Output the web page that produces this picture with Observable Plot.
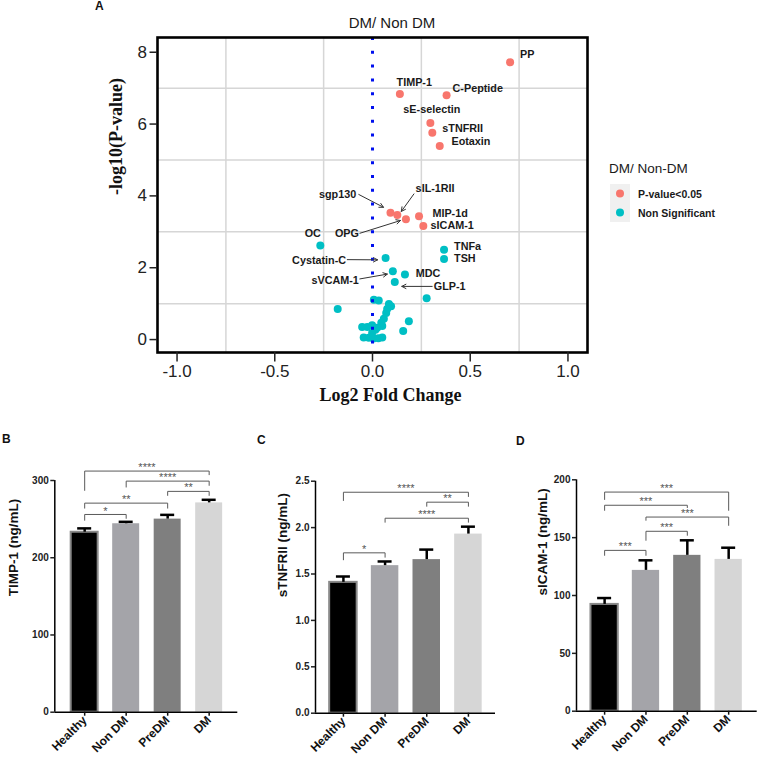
<!DOCTYPE html>
<html><head><meta charset="utf-8">
<script src="https://cdn.jsdelivr.net/npm/d3@7"></script>
<script src="https://cdn.jsdelivr.net/npm/@observablehq/plot@0.6"></script>
<style>
body{margin:0;background:#fff;}
#root{position:relative;width:758px;height:761px;overflow:hidden;font-family:"Liberation Sans",Arial,sans-serif;color:#111;}
#root svg{overflow:visible;}
</style></head><body><div id="root"></div>
<script>
// ---------------- DATA ----------------
// Panel A: volcano (DM / Non DM)
const sigNames = ["PP","TIMP-1","C-Peptide","sE-selectin","sTNFRII","Eotaxin","sgp130","sIL-1RII","OPG","MIP-1d","sICAM-1"];
const sigLog2FC = [0.704,0.140,0.379,0.296,0.306,0.344,0.092,0.127,0.171,0.238,0.260];
const sigNegLog10P = [7.72,6.84,6.80,6.03,5.76,5.39,3.53,3.47,3.35,3.43,3.16];

const nsNames = ["OC","TNFa","TSH","Cystatin-C","sVCAM-1","MDC","GLP-1"];
const nsLog2FC = [-0.267,0.366,0.366,0.067,0.104,0.166,0.114,0.277,-0.178,0.007,0.032,0.084,0.095,0.075,0.070,0.058,0.045,0.186,0.157,0.050,-0.053,-0.027,-0.002,0.024,-0.045,-0.019,0.005,0.030,0.050,-0.002,0.015];
const nsNegLog10P = [2.62,2.50,2.24,2.27,1.90,1.81,1.60,1.15,0.85,1.11,1.09,0.99,0.93,0.85,0.74,0.58,0.47,0.51,0.24,0.38,0.35,0.35,0.40,0.33,0.06,0.05,0.03,0.04,0.06,0.18,0.27];

const volcanoXTicks = [-1.0,-0.5,0.0,0.5,1.0];
const volcanoYTicks = [0,2,4,6,8];
const volcanoGridX = [-0.75,-0.25,0.25,0.75];
const volcanoGridY = [1,3,5,7];
const legendTitle = "DM/ Non-DM";
const legendLabels = ["P-value<0.05","Non Significant"];

// Panels B-D: bar charts
const groups = ["Healthy","Non DM","PreDM","DM"];
const timp1Mean = [233,244,250,271];
const timp1Err = [5,2.5,5.5,4];
const stnfriiMean = [1.41,1.59,1.655,1.93];
const stnfriiErr = [0.063,0.045,0.108,0.08];
const sicam1Mean = [92.3,121.7,134.7,131.2];
const sicam1Err = [5.5,8.7,13,10.1];

// significance comparisons: [groupA, groupB, label]
const timp1Sig = [[0,1,"*"],[0,2,"**"],[2,3,"**"],[1,3,"****"],[0,3,"****"]];
const stnfriiSig = [[0,1,"*"],[1,3,"****"],[2,3,"**"],[0,3,"****"]];
const sicam1Sig = [[0,1,"***"],[1,2,"***"],[1,3,"***"],[0,2,"***"],[0,3,"***"]];

// ---------------- ANNOTATION LAYOUT ----------------
// label offsets in px relative to point: [dx, dy, anchor]
const labelOffsets = {
  "PP":[10,-7.4,"start"], "TIMP-1":[-3.3,-11,"start"], "C-Peptide":[6,-7,"start"],
  "sE-selectin":[-27,-13.7,"start"], "sTNFRII":[10,-4,"start"], "Eotaxin":[11.7,-4,"start"],
  "MIP-1d":[13.4,-2.4,"start"], "sICAM-1":[7.3,-0.7,"start"], "TNFa":[10,-3.6,"start"],
  "TSH":[10,-0.4,"start"], "OC":[-7.5,-12.3,"middle"], "MDC":[10.7,-0.7,"start"],
  "sgp130":[-34.3,-18.3,"end"], "sIL-1RII":[18.3,-26.8,"start"], "OPG":[-47,14.6,"end"],
  "Cystatin-C":[-39.5,2.3,"end"], "sVCAM-1":[-34,9.3,"end"], "GLP-1":[39,4.3,"start"]
};
// arrows: [tailDx, tailDy, headDx, headDy] px relative to point
const arrowOffsets = {
  "sgp130":[-31.7,-18.3,-7,-5.5], "sIL-1RII":[16.6,-21,4,-3.5], "OPG":[-46,14,-5.5,1.3],
  "Cystatin-C":[-38.3,1.6,-8,1.8], "sVCAM-1":[-33,7.6,-5.5,2.8], "GLP-1":[37.4,4.3,7,4.3]
};
// bracket levels per panel: [line level, left leg end, right leg end] (data units)
const timp1Brk = [[256,248.5,251],[270.7,264.2,264.2],[285.9,280.7,280.7],[299.2,291.5,293.7],[312.2,287.2,307.5]];
const stnfriiBrk = [[1.728,1.653,1.681],[2.101,2.058,2.058],[2.274,2.23,2.23],[2.381,2.292,2.335]];
const sicam1Brk = [[139,134.7,134.7],[155.5,147.7,152],[167.8,165,160.6],[178,173.6,176],[189.4,183,173.6]];

const RED = "#f8766d", TEAL = "#00bfc4";
const barFills = ["#000000","#a4a4a9","#7f7f7f","#d6d6d6"];

const root = document.getElementById("root");
function place(el, left, top) {
  el.style.position = "absolute"; el.style.left = left + "px"; el.style.top = top + "px";
  root.appendChild(el); return el;
}
function html(s, left, top, css) {
  const d = document.createElement("div"); d.textContent = s; d.style.cssText = css || "";
  d.style.whiteSpace = "nowrap"; return place(d, left, top);
}

// ---------------- PANEL A ----------------
const VW=758, VH=440, VML=157, VMR=171, VMT=37, VMB=88;
const xDom=[-1.1,1.1], yDom=[-0.36,8.41];
const kx=(VW-VML-VMR)/(xDom[1]-xDom[0]), ky=(VH-VMT-VMB)/(yDom[1]-yDom[0]);

const pts = [
  ...sigNames.map((n,i)=>({name:n, fc:sigLog2FC[i], p:sigNegLog10P[i], sig:true})),
  ...nsLog2FC.map((v,i)=>({name:nsNames[i]||"", fc:v, p:nsNegLog10P[i], sig:false}))
];
const labels = pts.filter(d=>labelOffsets[d.name]).map(d=>{
  const o = labelOffsets[d.name];
  return {text:d.name, x:d.fc + o[0]/kx, y:d.p - o[1]/ky, anchor:o[2]};
});
const arrows = pts.filter(d=>arrowOffsets[d.name]).map(d=>{
  const o = arrowOffsets[d.name];
  return {x1:d.fc+o[0]/kx, y1:d.p-o[1]/ky, x2:d.fc+o[2]/kx, y2:d.p-o[3]/ky};
});
const lblFont = {fontFamily:"Liberation Sans, Arial, sans-serif", fontWeight:"bold", fontSize:10.8, fill:"#1a1a1a"};

const volcano = Plot.plot({
  width:VW, height:VH, marginLeft:VML, marginRight:VMR, marginTop:VMT, marginBottom:VMB,
  x:{domain:xDom}, y:{domain:yDom},
  style:{fontFamily:"Liberation Sans, Arial, sans-serif", fontSize:"17px", background:"transparent", overflow:"visible"},
  marks:[
    Plot.ruleX(volcanoGridX, {stroke:"#d6d6d6", strokeWidth:1.5}),
    Plot.ruleY(volcanoGridY, {stroke:"#d6d6d6", strokeWidth:1.5}),
    Plot.dot(pts.filter(d=>!d.sig), {x:"fc", y:"p", r:4, fill:TEAL}),
    Plot.dot(pts.filter(d=>d.sig), {x:"fc", y:"p", r:4, fill:RED}),
    Plot.ruleX([0], {stroke:"#0010ee", strokeWidth:3, strokeDasharray:"3,10.8"}),
    Plot.arrow(arrows, {x1:"x1", y1:"y1", x2:"x2", y2:"y2", stroke:"#333", strokeWidth:1, bend:0, headLength:7, headAngle:55}),
    Plot.text(labels.filter(d=>d.anchor==="start"), {x:"x", y:"y", text:"text", textAnchor:"start", ...lblFont}),
    Plot.text(labels.filter(d=>d.anchor==="end"), {x:"x", y:"y", text:"text", textAnchor:"end", ...lblFont}),
    Plot.text(labels.filter(d=>d.anchor==="middle"), {x:"x", y:"y", text:"text", textAnchor:"middle", ...lblFont}),
    Plot.frame({stroke:"#000", strokeWidth:2.6}),
    Plot.axisX({ticks:volcanoXTicks, tickFormat:d=>d.toFixed(1), tickSize:9.5, tickPadding:3, fontSize:17, label:null, color:"#222", strokeWidth:1.5}),
    Plot.axisY({ticks:volcanoYTicks, tickSize:7.5, tickPadding:3, fontSize:17, label:null, color:"#222", strokeWidth:1.5}),
    Plot.text(["-log10(P-value)"], {frameAnchor:"left", dx:-41, rotate:-90, fontFamily:"Liberation Serif, Times New Roman, serif", fontWeight:"bold", fontSize:18, fill:"#111"}),
    Plot.text(["Log2 Fold Change"], {frameAnchor:"bottom", dx:18, dy:48, fontFamily:"Liberation Serif, Times New Roman, serif", fontWeight:"bold", fontSize:18, fill:"#111"})
  ]
});
place(volcano, 0, 0);

html("A", 95, -1, "font-weight:bold;font-size:12px;");
html("DM/ Non DM", 0, 14, "width:784px;text-align:center;font-size:15px;color:#1a1a1a;");

// legend
const leg = document.createElementNS("http://www.w3.org/2000/svg","svg");
leg.setAttribute("width",140); leg.setAttribute("height",70);
leg.innerHTML = `
  <text x="0" y="13" font-size="13.5" fill="#1a1a1a" font-family="Liberation Sans, Arial, sans-serif">${legendTitle}</text>
  <rect x="1" y="24" width="20" height="19" fill="#f0f0f0"/>
  <rect x="1" y="43" width="20" height="19" fill="#f0f0f0"/>
  <circle cx="11" cy="33.5" r="4" fill="${RED}"/>
  <circle cx="11" cy="52.5" r="4" fill="${TEAL}"/>
  <text x="29" y="37.5" font-size="10.5" font-weight="bold" fill="#1a1a1a" font-family="Liberation Sans, Arial, sans-serif">${legendLabels[0].replace("<","&lt;")}</text>
  <text x="29" y="56.5" font-size="10.5" font-weight="bold" fill="#1a1a1a" font-family="Liberation Sans, Arial, sans-serif">${legendLabels[1]}</text>`;
place(leg, 609, 160);

// ---------------- PANELS B-D ----------------
function barPanel(cfg) {
  const {mean, err, sig, brk, yDomain, yTicks, tickFmt, label, width, height, ml, mr, mt, mb, xDomain, hw, labelDx} = cfg;
  const rows = groups.map((g,i)=>({i, g, m:mean[i], e:err[i], fill:barFills[i]}));
  const br = sig.map((s,k)=>({a:s[0], b:s[1], text:s[2], lev:brk[k][0], la:brk[k][1], lb:brk[k][2], k}));
  const brPts = br.flatMap(d=>[{x:d.a,y:d.la,k:d.k},{x:d.a,y:d.lev,k:d.k},{x:d.b,y:d.lev,k:d.k},{x:d.b,y:d.lb,k:d.k}]);
  const cap = 7/((width-ml-mr)/(xDomain[1]-xDomain[0]));
  return Plot.plot({
    width, height, marginLeft:ml, marginRight:mr, marginTop:mt, marginBottom:mb,
    x:{domain:xDomain}, y:{domain:yDomain},
    style:{fontFamily:"Liberation Sans, Arial, sans-serif", fontWeight:"bold", fontSize:"10px", background:"transparent", overflow:"visible"},
    marks:[
      ...rows.map(r=>Plot.rectY([r], {x1:d=>d.i-hw, x2:d=>d.i+hw, y:"m", fill:r.fill})),
      Plot.rectY(rows.slice(0,1), {x1:d=>d.i-hw, x2:d=>d.i+hw, y:"m", fill:"none", stroke:"#8a8a8a", strokeWidth:2}),
      Plot.ruleX(rows, {x:"i", y1:"m", y2:d=>d.m+d.e, stroke:"#000", strokeWidth:2.5}),
      Plot.ruleY(rows, {y:d=>d.m+d.e, x1:d=>d.i-cap, x2:d=>d.i+cap, stroke:"#000", strokeWidth:2.5}),
      Plot.line(brPts, {x:"x", y:"y", z:"k", stroke:"#5a5a5a", strokeWidth:1}),
      Plot.text(br, {x:d=>(d.a+d.b)/2, y:"lev", text:"text", dy:-3.5, fontSize:11, fontWeight:"normal", fill:"#555555", fontFamily:"Liberation Sans, Arial, sans-serif"}),
      Plot.ruleY([yDomain[0]], {x1:xDomain[0], x2:xDomain[1], stroke:"#000", strokeWidth:1.5}),
      Plot.ruleX([xDomain[0]], {y1:yDomain[0], y2:yDomain[1], stroke:"#000", strokeWidth:1.5}),
      Plot.axisY({ticks:yTicks, tickFormat:tickFmt, tickSize:4, tickPadding:2, fontSize:10, fontWeight:"bold", label:null, color:"#222", strokeWidth:1.5}),
      Plot.axisX({ticks:[0,1,2,3], tickFormat:i=>groups[i], tickRotate:-45, tickSize:4, tickPadding:2, fontSize:12, fontWeight:"bold", label:null, color:"#111", strokeWidth:1.5}),
      Plot.text([label], {frameAnchor:"left", dx:labelDx, rotate:-90, fontSize:13.5, fontWeight:"bold", fill:"#111"})
    ]
  });
}

place(barPanel({mean:timp1Mean, err:timp1Err, sig:timp1Sig, brk:timp1Brk, yDomain:[0,300], yTicks:[0,100,200,300], tickFmt:d=>d,
  label:"TIMP-1 (ng/mL)", width:250, height:321, ml:54.3, mr:12.7, mt:40, mb:49.3, xDomain:[-0.72,3.69], hw:0.325, labelDx:-41.6}), 0, 440);
place(barPanel({mean:stnfriiMean, err:stnfriiErr, sig:stnfriiSig, brk:stnfriiBrk, yDomain:[0,2.5], yTicks:[0,0.5,1,1.5,2,2.5], tickFmt:d=>d.toFixed(1),
  label:"sTNFRII (ng/mL)", width:250, height:321, ml:65, mr:5, mt:40.7, mb:48.3, xDomain:[-0.67,3.65], hw:0.33, labelDx:-33.3}), 250, 440);
place(barPanel({mean:sicam1Mean, err:sicam1Err, sig:sicam1Sig, brk:sicam1Brk, yDomain:[0,200], yTicks:[0,50,100,150,200], tickFmt:d=>d,
  label:"sICAM-1 (ng/mL)", width:258, height:321, ml:76, mr:1.3, mt:39.3, mb:50.3, xDomain:[-0.68,3.69], hw:0.33, labelDx:-34.3}), 500, 440);

html("B", 2, 432, "font-weight:bold;font-size:12px;");
html("C", 257, 433, "font-weight:bold;font-size:12px;");
html("D", 516, 434, "font-weight:bold;font-size:12px;");
</script></body></html>
